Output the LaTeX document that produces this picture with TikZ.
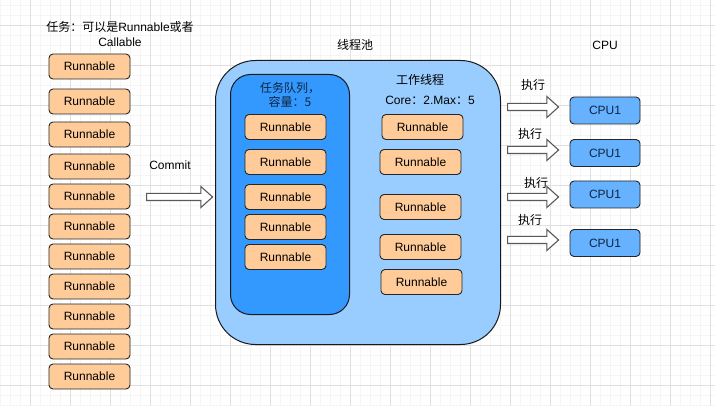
\documentclass[tikz,border=0pt]{standalone}
\usepackage{fontspec}
\setmainfont{Liberation Sans}
\newfontfamily\cjk{Noto Sans CJK SC}
\usetikzlibrary{shapes.arrows}

\begin{document}
\begin{tikzpicture}[x=1pt,y=-1pt,font=\fontsize{12}{14}\selectfont,
    task/.style={draw=black!85,line width=0.9pt,fill=peach,rounded corners=4pt,minimum width=81pt,minimum height=25pt,inner sep=0pt},
    cpu/.style={draw=black!85,line width=0.9pt,fill=bluec,rounded corners=4pt,minimum width=70pt,minimum height=27pt,inner sep=0pt,text=navy},
    blockarrow/.style={single arrow,draw=black!65,fill=white,line width=1.1pt,inner xsep=0pt,inner ysep=3pt,
      single arrow head extend=7pt,single arrow tip angle=84,anchor=tail},
    gridb/.style={draw=black!4,line width=0.5pt},
    grida/.style={draw=black!12,line width=0.6pt}]
    \definecolor{peach}{HTML}{FFCC99}
    \definecolor{bluea}{HTML}{99CCFF}
    \definecolor{blueb}{HTML}{3399FF}
    \definecolor{bluec}{HTML}{66B2FF}
    \definecolor{navy}{HTML}{10243F}
    \useasboundingbox (0,0) rectangle (715,406);
    % grid
    \foreach \x in {0,10,...,710} \draw[gridb] (\x,0) -- (\x,406);
    \foreach \y in {5,15,...,405} \draw[gridb] (0,\y) -- (715,\y);
    \foreach \x in {30,70,...,710} \draw[grida] (\x,0) -- (\x,406);
    \foreach \y in {25,65,...,405} \draw[grida] (0,\y) -- (715,\y);
    % tasks
    \node (title) at (120,27) {{\cjk 任务：可以是}Runnable{\cjk 或者}};
    \node (title2) at (120,42) {Callable};
    \foreach \y [count=\i] in {66.5,101.5,134.5,166.5,196.5,226.5,256.5,286.5,316.5,346.5,376.5}
      \node[task] (t\i) at (89.5,\y) {Runnable};
    \node (commit) at (170,165) {Commit};
    \node[blockarrow,minimum height=66pt] (submit) at (146,197) {};
    % pool
    \node (pooltitle) at (355,45) {\cjk 线程池};
    \node[draw=black!90,line width=1pt,fill=bluea,rounded corners=40pt,minimum width=285pt,minimum height=284pt,anchor=north west] (pool) at (215,60) {};
    \node[draw=black!90,line width=1pt,fill=blueb,rounded corners=20pt,minimum width=119pt,minimum height=240pt,anchor=north west] (queue) at (230,74) {};
    \node[align=center,text=navy] (queuetitle) at (290,95) {\cjk 任务队列，\\\cjk 容量：5};
    \foreach \y [count=\i] in {127,162,197,227,257}
      \node[task] (q\i) at (285.5,\y) {Runnable};
    \node (worktitle) at (420,80) {\cjk 工作线程};
    \node (workcore) at (430,100) {Core{\cjk ：}2.Max{\cjk ：}5};
    \foreach \x/\y [count=\i] in {422.5/127,420.5/162,420.5/207,420.5/247,421.5/282}
      \node[task] (w\i) at (\x,\y) {Runnable};
    % cpus
    \node (cputitle) at (605,45) {CPU};
    \foreach \y/\a/\ly/\lx [count=\i] in {110.5/107/85/533,153/150/134/530,194.5/197/183/536,243/240/220/530} {
      \node[cpu] (c\i) at (605,\y) {CPU1};
      \node[blockarrow,minimum height=51pt] (e\i) at (507,\a) {};
      \node (l\i) at (\lx,\ly) {\cjk 执行};
    }
\end{tikzpicture}
\end{document}
